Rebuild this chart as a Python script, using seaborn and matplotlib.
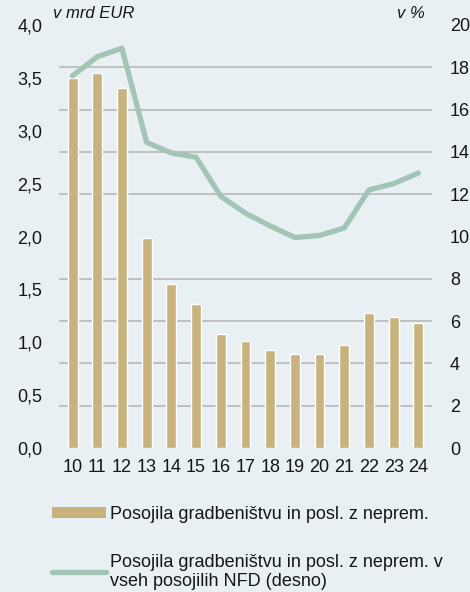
import numpy as np
import seaborn as sns
import matplotlib.pyplot as plt
from matplotlib.patches import Patch
from matplotlib.lines import Line2D

# Data
years = ['10', '11', '12', '13', '14', '15', '16', '17', '18', '19', '20', '21', '22', '23', '24']
loans_bn = [3.50, 3.55, 3.40, 1.99, 1.55, 1.36, 1.08, 1.01, 0.93, 0.89, 0.89, 0.97, 1.28, 1.24, 1.18]
share_pct = [17.6, 18.5, 18.9, 14.45, 13.95, 13.75, 11.9, 11.1, 10.5, 9.95, 10.05, 10.4, 12.2, 12.5, 13.0]

bar_label = 'Posojila gradbeništvu in posl. z neprem.'
line_label = 'Posojila gradbeništvu in posl. z neprem. v\nvseh posojilih NFD (desno)'

bg = '#e8f0f4'
bar_col = '#c8b27e'
line_col = '#a3c5b6'
grid_col = '#b9b9b9'
txt_col = '#161616'

sns.set_theme(style='white')
plt.rcParams['font.family'] = ['Liberation Sans', 'DejaVu Sans']
plt.rcParams['font.size'] = 13
plt.rcParams['text.color'] = txt_col

fig = plt.figure(figsize=(4.7, 5.92), dpi=100, facecolor=bg)
ax = fig.add_axes([0.1255, 0.2432, 0.7935, 0.7146])
ax.set_facecolor(bg)

sns.barplot(x=years, y=loans_bn, color=bar_col, width=0.4, saturation=1, ax=ax, zorder=2)
ax.set_ylim(0, 4)
ax.set_xlim(-0.55, len(years) - 0.45)
ax.set_yticks(np.arange(0, 4.01, 0.5))
ax.set_yticklabels([f'{v:.1f}'.replace('.', ',') for v in np.arange(0, 4.01, 0.5)])
# grid follows the right-hand axis (every 2 %)
ax.set_yticks(np.arange(0, 4.01, 0.4), minor=True)
ax.grid(False)
ax.grid(which='minor', axis='y', color=grid_col, linewidth=1.2, zorder=0)
ax.set_axisbelow(True)
ax.tick_params(axis='both', which='both', length=0, labelsize=13, colors=txt_col)
ax.tick_params(axis='y', pad=12)
ax.tick_params(axis='x', pad=8)
for s in ax.spines.values():
    s.set_visible(False)

ax2 = ax.twinx()
sns.lineplot(x=np.arange(len(years)), y=share_pct, color=line_col, linewidth=3.8, ax=ax2)
ax2.set_ylim(0, 20)
ax2.set_yticks(np.arange(0, 21, 2))
ax2.tick_params(axis='y', length=0, labelsize=13, colors=txt_col, pad=13)
ax2.grid(False)
for s in ax2.spines.values():
    s.set_visible(False)

ax.text(-0.016, 1.01, 'v mrd EUR', transform=ax.transAxes, ha='left', va='bottom',
        fontsize=12, style='italic', color=txt_col)
ax.text(0.98, 1.01, 'v %', transform=ax.transAxes, ha='right', va='bottom',
        fontsize=12, style='italic', color=txt_col)

handles = [Patch(facecolor=bar_col, edgecolor='none', label=bar_label),
           Line2D([0], [0], color=line_col, linewidth=3.8, label=line_label)]
fig.legend(handles=handles, loc='upper left', bbox_to_anchor=(0.095, 0.158),
           frameon=False, fontsize=13, handlelength=3.0, handleheight=0.6,
           handletextpad=0.2, labelspacing=1.72, borderaxespad=0)

fig.savefig('out.png', dpi=100, facecolor=bg)
